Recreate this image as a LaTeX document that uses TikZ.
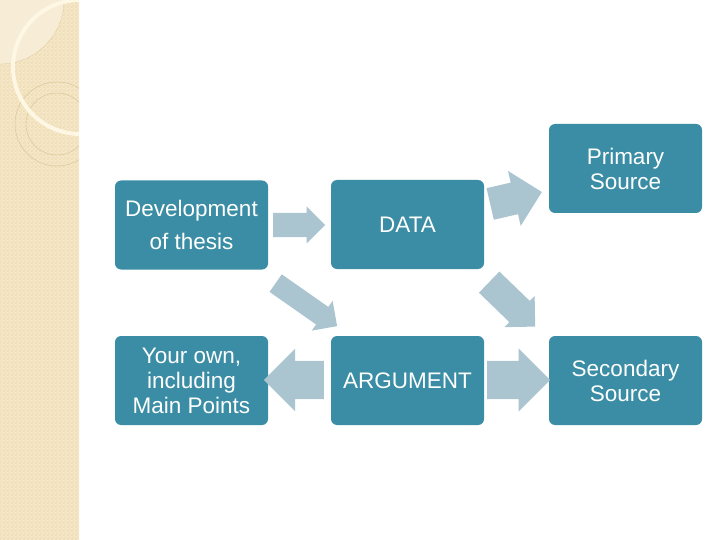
\documentclass[tikz,border=0pt]{standalone}
\usepackage{fontspec}
\setmainfont{Liberation Sans}
\usetikzlibrary{shapes.arrows,patterns.meta}
\definecolor{boxteal}{RGB}{58,141,164}
\definecolor{arrowgrey}{RGB}{170,196,208}
\definecolor{stripebeige}{RGB}{245,231,199}
\definecolor{stripedark}{RGB}{237,219,178}
\definecolor{diskpale}{RGB}{247,237,214}
\definecolor{ringline}{RGB}{214,194,150}
\definecolor{arcpale}{RGB}{253,247,228}
\tikzdeclarepattern{
  name=finecheck,
  type=uncolored,
  bottom left={(0pt,0pt)},
  top right={(4pt,4pt)},
  tile size={(4pt,4pt)},
  code={\fill (0pt,0pt) rectangle (2pt,2pt); \fill (2pt,2pt) rectangle (4pt,4pt);}
}

\begin{document}
\begin{tikzpicture}[x=1pt,y=-1pt,
  flowbox/.style={rectangle,rounded corners=6pt,fill=boxteal,text=white,minimum width=153pt,minimum height=89pt,inner sep=0pt,align=center,font=\fontsize{22.5}{25}\selectfont},
  flowarrow/.style n args={3}{single arrow,anchor=tail,fill=arrowgrey,inner sep=0pt,text height=#2,text depth=0pt,minimum height=#1,single arrow head extend=#3}]
  \useasboundingbox (0,0) rectangle (720,540);
  \fill[stripebeige] (0,0) rectangle (79,540);
  \fill[pattern=finecheck,pattern color=stripedark] (0,0) rectangle (79,540);
  \begin{scope}
    \clip (0,0) rectangle (79,540);
    \fill[diskpale] (0,0) circle (64);
    \draw[ringline,very thin] (0,0) circle (64);
    \draw[ringline,thin] (57,124) circle (42);
    \draw[ringline,thin] (57,124) circle (31);
    \draw[arcpale,line width=4pt] (80,67) circle (67);
  \end{scope}
  \node[flowbox,font=\fontsize{22.5}{33}\selectfont] (thesis) at (191.5,225) {Development\\of thesis};
  \node[flowbox] (data) at (407.5,224.5) {DATA};
  \node[flowbox] (primary) at (625.5,168.5) {Primary\\Source};
  \node[flowbox] (ownpts) at (191.5,380.5) {Your own,\\including\\Main Points};
  \node[flowbox] (argument) at (407.5,380.5) {ARGUMENT};
  \node[flowbox] (secondary) at (625.5,380.5) {Secondary\\Source};
  \node[flowarrow={52}{24}{6.5}] (thesisdata) at (273,225) {};
  \node[flowarrow={75}{21}{7.5},rotate=-35] (thesisarg) at (275.5,283) {};
  \node[flowarrow={53}{32}{12},rotate=13] (dataprim) at (490,204) {};
  \node[flowarrow={64}{29}{7},rotate=-44] (datasec) at (489,282) {};
  \node[flowarrow={60}{38}{12},rotate=180] (argown) at (324,380) {};
  \node[flowarrow={63}{38}{12.5}] (argsec) at (487,380) {};
\end{tikzpicture}
\end{document}
